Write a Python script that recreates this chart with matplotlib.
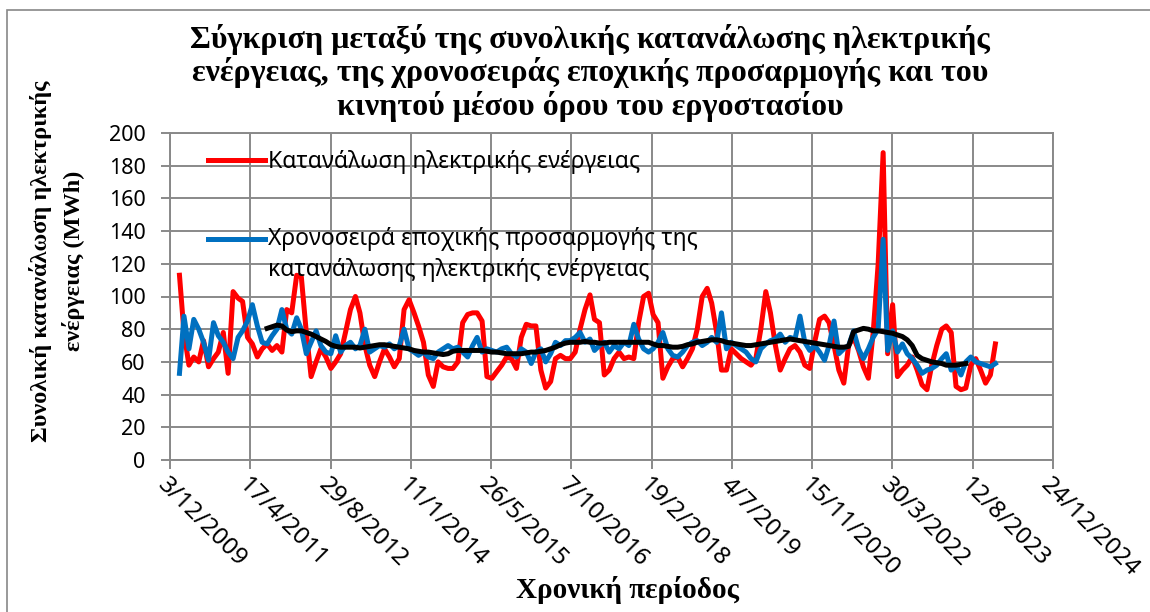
import matplotlib
matplotlib.use("Agg")
import matplotlib.pyplot as plt
from matplotlib.patches import Rectangle
import pandas as pd
import datetime as dt

# monthly values, Jan 2010 .. Dec 2023 (month ends)
months = pd.date_range("2010-01-31", periods=168, freq="ME")

consumption = [
    113, 78, 58, 63, 60, 73, 57, 62, 66, 78, 53, 103,
    99, 97, 75, 71, 63, 68, 71, 67, 70, 66, 92, 90,
    113, 112, 78, 51, 60, 68, 63, 56, 60, 65, 78, 92,
    100, 90, 70, 58, 51, 60, 68, 63, 57, 62, 92, 98,
    90, 82, 72, 52, 45, 60, 57, 56, 56, 60, 84, 89,
    90, 90, 85, 51, 50, 54, 58, 63, 62, 56, 75, 83,
    82, 82, 55, 44, 48, 62, 64, 62, 62, 66, 80, 92,
    101, 86, 84, 52, 55, 62, 66, 62, 63, 62, 84, 100,
    102, 89, 84, 50, 57, 62, 63, 57, 62, 68, 80, 100,
    105, 96, 78, 55, 55, 68, 65, 62, 60, 58, 62, 80,
    103, 90, 70, 55, 62, 68, 70, 66, 58, 56, 72, 86,
    88, 84, 70, 55, 47, 70, 75, 67, 57, 50, 78, 120,
    188, 65, 95, 51, 55, 58, 63, 55, 46, 43, 58, 70,
    80, 82, 78, 45, 43, 44, 58, 62, 55, 47, 52, 71,
]

seasonal_adj = [
    53, 88, 68, 86, 80, 72, 61, 84, 76, 72, 66, 62,
    75, 79, 85, 95, 82, 72, 71, 76, 80, 92, 80, 77,
    87, 80, 65, 72, 79, 70, 66, 65, 76, 66, 70, 72,
    68, 70, 80, 66, 68, 70, 69, 71, 68, 70, 80, 68,
    66, 64, 66, 63, 62, 66, 68, 70, 68, 69, 66, 63,
    70, 75, 66, 68, 67, 66, 68, 69, 65, 63, 68, 66,
    59, 66, 68, 60, 65, 72, 70, 73, 73, 75, 78, 72,
    74, 67, 70, 72, 66, 70, 68, 72, 70, 83, 74, 68,
    66, 68, 72, 78, 68, 64, 63, 66, 70, 72, 73, 70,
    72, 75, 72, 90, 68, 72, 70, 68, 66, 62, 60, 68,
    71, 73, 74, 77, 72, 75, 74, 88, 72, 67, 70, 66,
    61, 70, 85, 65, 68, 70, 79, 68, 62, 68, 75, 80,
    135, 67, 79, 66, 71, 65, 62, 58, 53, 55, 56, 58,
    62, 65, 55, 58, 52, 60, 63, 60, 59, 58, 57, 59,
]

# moving average, Jul 2011 .. Jun 2023
moving_avg = [
    80.5, 81.5, 82.5, 82, 79.5, 78.5,
    79, 79, 78, 77, 75.5, 74, 72.5, 70.5, 69.5, 69, 69, 69,
    69, 68.5, 69, 69.5, 70, 70.5, 70.5, 70, 69.5, 69, 68.5, 68,
    67, 66.5, 66, 66, 65.5, 65, 64.5, 65, 66.5, 67, 67, 67,
    67, 67, 67, 66.5, 66, 66, 65.5, 65, 65, 65, 65, 65.5,
    66, 66, 66.5, 67, 68, 69, 70.5, 71.5, 72, 72, 72, 72.5,
    72, 72, 71.5, 71.5, 72, 72, 72, 72, 72, 72, 72, 72,
    72, 71, 70, 70, 69.5, 69, 69, 69.5, 70.5, 71, 72, 72.5,
    73, 73.5, 73.5, 73, 72, 71.5, 71, 70.5, 70, 70, 70.5, 71,
    71.5, 72, 72.5, 73, 73.5, 74, 73.5, 73, 72.5, 72, 71.5, 71,
    70.5, 70, 69.5, 69, 69, 69.5, 78.5, 79.5, 80.5, 80, 79, 79,
    78.5, 78, 77.5, 76.5, 75.5, 73.5, 70, 64, 62, 61, 60, 59.5,
    59, 58, 58, 58, 58.5, 59,
]
ma_months = months[18:18 + len(moving_avg)]

tick_labels = ["3/12/2009", "17/4/2011", "29/8/2012", "11/1/2014", "26/5/2015",
               "7/10/2016", "19/2/2018", "4/7/2019", "15/11/2020", "30/3/2022",
               "12/8/2023", "24/12/2024"]
tick_dates = [dt.datetime.strptime(s, "%d/%m/%Y") for s in tick_labels]

title = ("Σύγκριση μεταξύ της συνολικής κατανάλωσης ηλεκτρικής\n"
         "ενέργειας, της χρονοσειράς εποχικής προσαρμογής και του\n"
         "κινητού μέσου όρου του εργοστασίου")

sans = ["Noto Sans", "DejaVu Sans"]
serif = ["Liberation Serif", "DejaVu Serif"]
grid_c = "#898989"

fig = plt.figure(figsize=(11.5, 6.12), dpi=100)
ax = fig.add_axes([170 / 1150, 1 - 460 / 612, 883 / 1150, 327 / 612])

# outer frame of the chart object
fig.patches.append(Rectangle((7 / 1150, -0.05), 1.1, 1 - 10 / 612 + 0.05,
                             transform=fig.transFigure, fill=False,
                             edgecolor="#888888", linewidth=1.2))

ax.plot(months, consumption, color="#FF0000", lw=3.6, solid_joinstyle="round",
        label="Κατανάλωση ηλεκτρικής ενέργειας", zorder=3)
ax.plot(months, seasonal_adj, color="#0070C0", lw=3.6, solid_joinstyle="round",
        label="Χρονοσειρά εποχικής προσαρμογής της\nκατανάλωσης ηλεκτρικής ενέργειας",
        zorder=4)
ax.plot(ma_months, moving_avg, color="black", lw=3.6, solid_joinstyle="round",
        zorder=5)

ax.set_xlim(tick_dates[0], tick_dates[-1])
ax.set_ylim(0, 200)
ax.set_yticks(range(0, 201, 20))
ax.set_xticks(tick_dates)
ax.set_xticklabels(tick_labels, rotation=-45, ha="left", va="top",
                   rotation_mode="anchor", family=sans, fontsize=17.5)
for lab in ax.get_yticklabels():
    lab.set_family(sans)
    lab.set_fontsize(15.5)

ax.grid(True, color=grid_c, lw=1.4)
ax.set_axisbelow(True)
for side in ["left", "bottom", "top", "right"]:
    ax.spines[side].set_color(grid_c)
    ax.spines[side].set_linewidth(1.4)
ax.tick_params(axis="both", direction="out", length=6.5, width=1.4, color=grid_c,
               labelcolor="black")
ax.tick_params(axis="x", pad=3)
ax.tick_params(axis="y", pad=11)

leg = ax.legend(loc="upper left", bbox_to_anchor=(0.0195, 1.01), frameon=False,
                prop={"family": sans, "size": 16.5}, handlelength=2.5,
                handletextpad=0.12, labelspacing=2.3)
leg.get_texts()[1].set_linespacing(1.4)
# Excel puts the line sample level with the first text line
blue_handle = leg.get_lines()[1]
blue_handle.set_ydata(blue_handle.get_ydata() + 12)

fig.text(590 / 1150, 1 - 73 / 612, title, ha="center", va="center",
         family=serif, weight="bold", fontsize=23, linespacing=1.1)
fig.text(57 / 1150, 1 - 261 / 612,
         "Συνολική κατανάλωση ηλεκτρικής\nενέργειας (MWh)", rotation=90,
         ha="center", va="center", family=serif, weight="bold", fontsize=17.5,
         linespacing=1.55)
fig.text(628 / 1150, 1 - 590 / 612, "Χρονική περίοδος", ha="center",
         va="center", family=serif, weight="bold", fontsize=21)

fig.savefig("out.png", dpi=100)
